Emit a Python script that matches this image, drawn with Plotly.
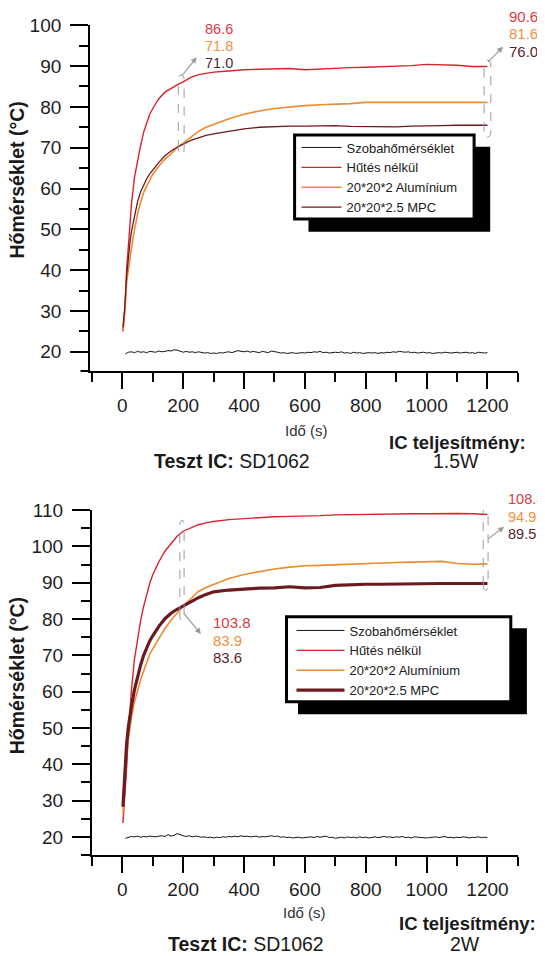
import plotly.graph_objects as go

# the page puts the figure 8 px in from the top-left corner
OFF = 8
W, H = 545 - OFF, 956 - OFF

# time stamps (s) for the heated curves
t = [2, 8, 14, 20, 25, 30, 40, 50, 60, 70, 80, 90, 100, 120, 140, 160, 180, 200,
     225, 250, 275, 300, 350, 400, 450, 500, 550, 600, 650, 700, 750, 800, 850,
     900, 950, 1000, 1050, 1100, 1150, 1200]

# --- 1.5W ---
red_15 = [25.0, 30.2, 40.0, 46.0, 51.0, 56.3, 62.8, 67.2, 70.5, 73.8, 76.3, 78.2, 79.6,
          82.0, 83.6, 84.6, 85.4, 86.1, 87.2, 87.9, 88.2, 88.5, 88.8, 89.1, 89.2, 89.3,
          89.4, 89.1, 89.3, 89.5, 89.6, 89.7, 89.8, 89.9, 90.1, 90.4, 90.3, 90.2, 89.9, 89.9]
alu_15 = [25.5, 29.5, 37.0, 40.5, 43.3, 45.4, 50.0, 53.8, 56.6, 59.0, 60.6, 62.0, 63.5,
          65.5, 67.2, 68.5, 70.0, 71.1, 72.5, 74.0, 75.0, 75.7, 77.1, 78.2, 79.0, 79.6,
          80.0, 80.3, 80.5, 80.6, 80.8, 81.1, 81.1, 81.1, 81.1, 81.1, 81.1, 81.1, 81.1, 81.1]
mpc_15 = [26.0, 31.0, 38.5, 44.0, 46.8, 49.5, 53.5, 56.8, 59.2, 60.9, 62.4, 63.6, 64.6,
          66.4, 68.0, 69.2, 70.1, 70.9, 71.8, 72.4, 73.0, 73.4, 74.0, 74.6, 75.0, 75.2,
          75.3, 75.3, 75.4, 75.4, 75.2, 75.2, 75.1, 75.1, 75.3, 75.3, 75.4, 75.5, 75.5, 75.5]

# --- 2W ---
red_2 = [23.8, 30.0, 38.8, 48.7, 54.8, 60.5, 69.0, 74.8, 79.5, 83.5, 86.8, 89.8, 92.2,
         95.8, 98.7, 100.9, 102.8, 104.2, 105.2, 106.0, 106.5, 106.9, 107.4, 107.7, 107.9,
         108.2, 108.3, 108.3, 108.5, 108.7, 108.8, 108.8, 108.9, 108.9, 109.0, 109.0,
         109.1, 109.1, 109.0, 108.8]
alu_2 = [26.5, 35.0, 42.5, 47.0, 50.3, 52.8, 57.2, 60.4, 63.2, 65.7, 68.1, 70.3, 71.8,
         74.8, 77.4, 79.7, 81.8, 83.6, 85.6, 87.6, 88.7, 89.6, 91.2, 92.3, 93.1, 93.8,
         94.3, 94.7, 94.8, 95.0, 95.1, 95.3, 95.5, 95.6, 95.7, 95.8, 95.9, 95.3, 95.1, 95.2]
mpc_2 = [28.3, 38.5, 45.5, 50.4, 53.5, 56.0, 60.6, 64.4, 67.3, 70.0, 72.2, 74.0, 75.4,
         78.0, 80.1, 81.6, 82.7, 83.6, 84.9, 85.9, 86.8, 87.5, 88.0, 88.3, 88.5, 88.6,
         88.9, 88.6, 88.7, 89.3, 89.5, 89.6, 89.6, 89.7, 89.8, 89.8, 89.8, 89.8, 89.8, 89.8]

# room temperature, one reading every 10 s
t_room = list(range(10, 1201, 10))
room_15 = [19.5, 19.9, 20.0, 19.8, 20.1, 19.9, 20.0, 19.8, 20.1, 20.0,
           19.9, 20.2, 20.0, 20.1, 20.3, 20.2, 20.5, 20.4, 20.2, 19.9,
           20.1, 19.9, 20.0, 19.8, 20.0, 19.9, 19.7, 19.8, 19.6, 19.7,
           19.6, 19.8, 19.7, 19.9, 20.0, 19.8, 20.1, 20.3, 20.1, 20.0,
           20.2, 19.9, 20.1, 20.0, 19.8, 20.1, 19.9, 19.8, 20.2, 20.1,
           19.9, 19.7, 19.8, 19.6, 19.7, 19.8, 19.6, 19.7, 19.8, 19.7,
           19.9, 19.8, 20.0, 19.9, 20.1, 19.8, 19.9, 19.7, 19.8, 19.9,
           19.8, 20.0, 19.7, 19.8, 19.6, 19.9, 19.7, 19.8, 19.6, 19.7,
           19.8, 19.7, 19.8, 19.6, 19.8, 19.7, 19.9, 19.8, 20.0, 19.9,
           20.1, 20.0, 19.9, 20.0, 19.8, 19.9, 19.7, 19.8, 19.9, 19.7,
           19.8, 19.6, 19.7, 19.8, 19.7, 19.9, 19.8, 19.7, 19.8, 19.9,
           19.7, 19.8, 19.9, 19.7, 19.8, 19.6, 19.9, 19.8, 19.7, 19.8]
room_2 = [19.6, 19.9, 20.1, 20.0, 20.2, 19.9, 20.1, 20.0, 20.2, 20.1,
          20.0, 20.2, 20.3, 20.1, 20.6, 20.2, 20.4, 20.9, 20.5, 20.3,
          20.1, 20.3, 20.0, 20.2, 20.1, 19.9, 20.0, 19.8, 19.9, 19.7,
          19.9, 19.8, 20.0, 19.9, 20.1, 20.0, 20.2, 20.0, 20.3, 20.1,
          20.2, 20.0, 20.1, 20.2, 19.9, 20.1, 20.0, 20.2, 20.3, 20.1,
          20.2, 19.9, 20.0, 19.8, 19.9, 19.7, 19.8, 19.9, 19.7, 19.8,
          19.9, 20.0, 19.8, 20.1, 19.9, 20.0, 20.2, 19.8, 19.9, 19.6,
          19.8, 19.9, 19.7, 20.0, 19.8, 19.9, 19.7, 20.0, 19.8, 19.9,
          19.7, 19.9, 20.0, 19.8, 19.9, 20.1, 19.9, 20.0, 19.8, 20.0,
          19.9, 20.1, 19.8, 19.9, 19.7, 20.0, 19.9, 19.8, 19.9, 19.7,
          19.8, 19.9, 20.0, 19.8, 19.9, 20.1, 19.8, 19.9, 19.7, 19.9,
          19.8, 20.0, 19.9, 19.7, 19.9, 19.8, 20.0, 19.8, 19.9, 19.8]

# readout labels (red, orange, dark red)
read_15_200 = ["86.6", "71.8", "71.0"]
read_15_1200 = ["90.6", "81.6", "76.0"]
read_2_200 = ["103.8", "83.9", "83.6"]
read_2_1200 = ["108.8", "94.9", "89.5"]

names = ["Szobahőmérséklet", "Hűtés nélkül", "20*20*2 Alumínium", "20*20*2.5 MPC"]
line_cols = ["#141414", "#d8232b", "#ee8a2f", "#6b1a20"]
text_cols = ["#e0393f", "#ee9142", "#5a1f2e"]

FONT = "Arial, Liberation Sans, sans-serif"


# page pixel -> paper fraction
def px(x):
    return (x - OFF) / W


def py(y):
    return 1 - (y - OFF) / H


fig = go.Figure()

panels = [
    (room_15, red_15, alu_15, mpc_15, "x", "y", "legend", 1.3),
    (room_2, red_2, alu_2, mpc_2, "x2", "y2", "legend2", 3.2),
]
for room, red, alu, mpc, xa, ya, lg, mpc_w in panels:
    series = [(t_room, room, 1.0), (t, red, 1.4), (t, alu, 1.6), (t, mpc, mpc_w)]
    for (xs, ys, w), nm, c in zip(series, names, line_cols):
        fig.add_trace(go.Scatter(x=xs, y=ys, mode="lines", name=nm, xaxis=xa, yaxis=ya,
                                 legend=lg, line=dict(color=c, width=w)))

tick_font = dict(family=FONT, size=19, color="#1e1e1e")


def xax(dom, rng, anchor):
    return dict(domain=dom, range=rng, anchor=anchor, showline=True, linecolor="black",
                linewidth=2, ticks="outside", ticklen=16, tickwidth=2, tickcolor="black",
                tick0=0, dtick=200, tickfont=tick_font, ticklabelstandoff=0,
                showgrid=False, zeroline=False, automargin=False,
                minor=dict(ticks="outside", ticklen=9, tickwidth=2, tickcolor="black",
                           dtick=100, tick0=0, showgrid=False))


def yax(dom, rng, anchor):
    return dict(domain=dom, range=rng, anchor=anchor, showline=True, linecolor="black",
                linewidth=2, ticks="outside", ticklen=18, tickwidth=2, tickcolor="black",
                tick0=0, dtick=10, tickfont=tick_font, ticklabelstandoff=5,
                showgrid=False, zeroline=False, automargin=False,
                minor=dict(ticks="outside", ticklen=9, tickwidth=2, tickcolor="black",
                           dtick=5, tick0=0, showgrid=False))


legend_common = dict(xanchor="left", yanchor="top", bgcolor="rgba(0,0,0,0)",
                     borderwidth=0, font=dict(family=FONT, size=13, color="#202020"),
                     tracegroupgap=0)

fig.update_layout(
    width=W, height=H, margin=dict(l=0, r=0, t=0, b=0, autoexpand=False),
    paper_bgcolor="white", plot_bgcolor="white", showlegend=True,
    xaxis=xax([px(90.1), px(518.2)], [-106, 1301], "y"),
    yaxis=yax([py(371), py(25)], [15.3, 100.05], "x"),
    xaxis2=xax([px(91.9), px(518.2)], [-100, 1301], "y2"),
    yaxis2=yax([py(855), py(510)], [15, 110.05], "x2"),
    legend=dict(x=px(296.5), y=py(132.5), itemwidth=40, **legend_common),
    legend2=dict(x=px(291.5), y=py(615.5), itemwidth=48, **legend_common),
)

# legend drop shadows and frames: (x0, x1, y0, y1) in page pixels
frames = [(294.6, 474.1, 135, 219), (286.5, 510.8, 616.7, 701.7)]
shadows = [(308.5, 490.2, 146.7, 231.7), (298, 526.9, 628.3, 714.3)]
for x0, x1, y0, y1 in shadows:
    fig.add_shape(type="rect", xref="paper", yref="paper", x0=px(x0), x1=px(x1),
                  y0=py(y1), y1=py(y0), fillcolor="black", line=dict(width=0), layer="above")
for x0, x1, y0, y1 in frames:
    fig.add_shape(type="rect", xref="paper", yref="paper", x0=px(x0), x1=px(x1),
                  y0=py(y1), y1=py(y0), fillcolor="white", line=dict(color="black", width=3),
                  layer="above")

# short stubs where the x axis runs past the y axis
for x0, x1, yy in [(80.5, 90.1, 371), (83, 91.9, 855)]:
    fig.add_shape(type="line", xref="paper", yref="paper", x0=px(x0), x1=px(x1),
                  y0=py(yy), y1=py(yy), line=dict(color="black", width=2))


def capsule(x0, x1, y0, y1, ry):
    xm = (x0 + x1) / 2
    return (f"M{x0},{y0 + ry} L{x0},{y1 - ry} Q{x0},{y1} {xm},{y1} Q{x1},{y1} {x1},{y1 - ry} "
            f"L{x1},{y0 + ry} Q{x1},{y0} {xm},{y0} Q{x0},{y0} {x0},{y0 + ry} Z")


caps = [("x", "y", 184, 203, 68.3, 87.8, 1.4), ("x", "y", 1189, 1211, 72.6, 91.4, 1.4),
        ("x2", "y2", 189, 203, 79.7, 107.2, 1.4), ("x2", "y2", 1186, 1202, 88.0, 111.0, 1.4)]
for xr, yr, x0, x1, y0, y1, r in caps:
    fig.add_shape(type="path", xref=xr, yref=yr, path=capsule(x0, x1, y0, y1, r),
                  line=dict(color="#9a9a9a", width=1, dash="dash"))

ann = []
# grey arrows (head pixel position, tail offset)
for hx, hy, ax, ay in [(196.7, 57.3, -16.1, 20), (503.1, 46.7, -16.4, 16.6),
                       (200.9, 634, -18.5, -22.3), (504.2, 526.7, -17.5, 13.3)]:
    ann.append(dict(x=px(hx), y=py(hy), xref="paper", yref="paper", text="", showarrow=True,
                    ax=ax, ay=ay, arrowhead=2, arrowsize=1, arrowwidth=1.2,
                    arrowcolor="#9a9a9a"))

# readouts
for vals, lx, ys, fs in [(read_15_200, 202.7, [29, 45.7, 62.7], 14.5),
                         (read_15_1200, 507.3, [16.7, 33.3, 51.7], 15),
                         (read_2_200, 210.5, [622.7, 640, 657.7], 15),
                         (read_2_1200, 506, [499.3, 516.7, 534], 14.5)]:
    for v, yy, c in zip(vals, ys, text_cols):
        ann.append(dict(x=px(lx), y=py(yy), xref="paper", yref="paper", text=v,
                        showarrow=False, xanchor="left", yanchor="middle",
                        font=dict(family=FONT, size=fs, color=c)))

# titles and captions
for ytit, xt, xtit, cap_y, pw_y, pw_x, pw, tic_x in [(180, 430, 306.8, 461, 442.7, 457.7, "1.5W", 232.3),
                                                     (675.8, 912.7, 304.9, 944, 923.3, 467.3, "2W", 245.5)]:
    base = dict(xref="paper", yref="paper", showarrow=False, xanchor="center", yanchor="middle")
    ann.append(dict(x=px(16.5), y=py(ytit), text="<b>Hőmérséklet (°C)</b>", textangle=-90,
                    font=dict(family=FONT, size=19.5, color="#1a1a1a"), **base))
    ann.append(dict(x=px(xtit), y=py(xt), text="Idő (s)",
                    font=dict(family=FONT, size=15, color="#333333"), **base))
    ann.append(dict(x=px(tic_x), y=py(cap_y), text="<b>Teszt IC:</b> SD1062",
                    font=dict(family=FONT, size=19.5, color="#1a1a1a"), **base))
    ann.append(dict(x=px(pw_x), y=py(pw_y), text="<b>IC teljesítmény:</b>",
                    font=dict(family=FONT, size=18.5, color="#1a1a1a"), **base))
    ann.append(dict(x=px(pw_x - 2), y=py(cap_y), text=pw,
                    font=dict(family=FONT, size=19.5, color="#1a1a1a"), **base))

fig.update_layout(annotations=ann)
fig.write_html("out.html")
